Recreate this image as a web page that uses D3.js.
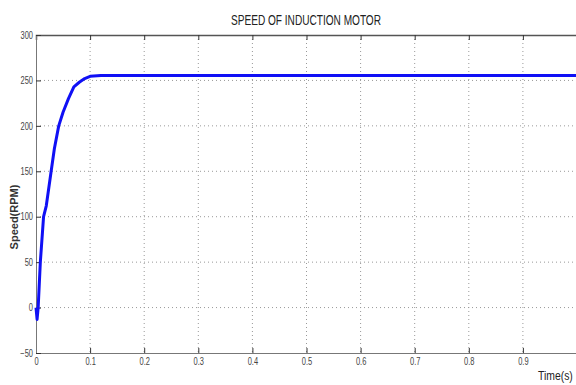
<!DOCTYPE html>
<html>
<head>
<meta charset="utf-8">
<script src="https://cdn.jsdelivr.net/npm/d3@7"></script>
<style>
  body { margin: 0; background: #fff; }
  svg { display: block; }
  .tick text { font-family: "Liberation Sans", Arial, sans-serif; font-size: 10px; fill: #444; }
</style>
</head>
<body>
<figure id="chart" style="margin:0"></figure>
<script>
// time (s) and speed (RPM)
var times  = [0, 0.002, 0.004, 0.008, 0.014, 0.019, 0.028, 0.034, 0.042, 0.05, 0.06, 0.07, 0.08, 0.09, 0.1, 0.12, 0.14, 0.2, 1.0];
var speeds = [0, -13, 0, 50, 100, 112, 150, 175, 200, 215, 230, 243, 248, 252, 254.5, 255.5, 255.5, 255.5, 255.5];
var xTicks = [0, 0.1, 0.2, 0.3, 0.4, 0.5, 0.6, 0.7, 0.8, 0.9];
var yTicks = [-50, 0, 50, 100, 150, 200, 250, 300];

var dimensions = {
  width: 576,
  height: 385,
  margin: { top: 35, right: -1, bottom: 32, left: 36 }
};
dimensions.boundedWidth = dimensions.width - dimensions.margin.left - dimensions.margin.right;
dimensions.boundedHeight = dimensions.height - dimensions.margin.top - dimensions.margin.bottom;

var data = times.map(function(t, i) { return { t: t, v: speeds[i] }; });

var svg = d3.select("figure#chart")
  .append("svg")
  .attr("width", dimensions.width)
  .attr("height", dimensions.height);

var g = svg.append("g")
  .attr("transform", `translate(${dimensions.margin.left},${dimensions.margin.top})`);

var xScale = d3.scaleLinear().domain([0, 1]).range([0, dimensions.boundedWidth]);
var yScale = d3.scaleLinear().domain([-50, 300]).range([dimensions.boundedHeight, 0]);

// grid
g.append("g")
  .selectAll("line")
  .data(xTicks.slice(1))
  .enter().append("line")
  .attr("x1", d => xScale(d)).attr("x2", d => xScale(d))
  .attr("y1", 0).attr("y2", dimensions.boundedHeight)
  .attr("stroke", "#999").attr("stroke-width", 1).attr("stroke-dasharray", "1,3");

g.append("g")
  .selectAll("line")
  .data(yTicks.slice(1, -1))
  .enter().append("line")
  .attr("x1", 0).attr("x2", dimensions.boundedWidth)
  .attr("y1", d => yScale(d)).attr("y2", d => yScale(d))
  .attr("stroke", "#999").attr("stroke-width", 1).attr("stroke-dasharray", "1,3");

// axes
var xAxis = g.append("g")
  .attr("transform", `translate(0,${dimensions.boundedHeight})`)
  .call(d3.axisBottom(xScale).tickValues(xTicks).tickSize(-5).tickPadding(5).tickFormat(d3.format("")));

var xTop = g.append("g")
  .call(d3.axisTop(xScale).tickValues(xTicks).tickSize(-5).tickFormat(""));

var yAxis = g.append("g")
  .call(d3.axisLeft(yScale).tickValues(yTicks).tickSize(-5).tickPadding(3));

[xAxis, xTop, yAxis].forEach(function(a) {
  a.selectAll(".domain").attr("stroke", "#777");
  a.selectAll(".tick line").attr("stroke", "#333");
});
xTop.select(".domain").attr("stroke", "#555").attr("stroke-width", 1.5);

// narrow the tick labels like the original print
xAxis.selectAll(".tick text").attr("transform", "scale(0.75,1)");
yAxis.selectAll(".tick text").attr("x", -4).attr("transform", "scale(0.75,1)");

// speed curve
var line = d3.line()
  .x(d => xScale(d.t))
  .y(d => yScale(d.v));

g.append("path")
  .datum(data)
  .attr("d", line)
  .attr("fill", "none")
  .attr("stroke", "#1010f5")
  .attr("stroke-width", 3)
  .attr("stroke-linejoin", "round");

// labels
svg.append("text")
  .attr("x", 231).attr("y", 25)
  .attr("textLength", 150)
  .attr("lengthAdjust", "spacingAndGlyphs")
  .style("font-family", "\"Liberation Sans\", Arial, sans-serif")
  .style("font-size", "15px")
  .style("fill", "#222")
  .text("SPEED OF INDUCTION MOTOR");

svg.append("text")
  .attr("transform", "translate(18,217) rotate(-90)")
  .attr("text-anchor", "middle")
  .style("font-family", "\"Liberation Sans\", Arial, sans-serif")
  .style("font-size", "11px")
  .style("font-weight", "bold")
  .style("fill", "#333")
  .text("Speed(RPM)");

svg.append("text")
  .attr("transform", "translate(538,380) scale(0.8,1)")
  .style("font-family", "\"Liberation Sans\", Arial, sans-serif")
  .style("font-size", "13px")
  .style("fill", "#222")
  .text("Time(s)");
</script>
</body>
</html>
